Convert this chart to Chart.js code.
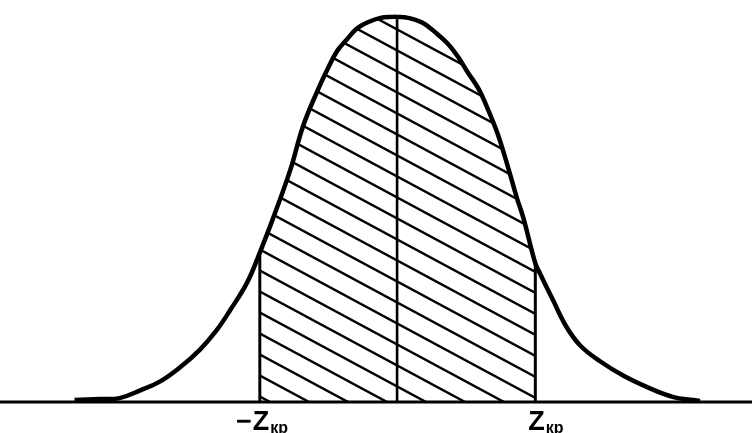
<!DOCTYPE html>
<html>
<head>
<meta charset="utf-8">
<script src="https://cdn.jsdelivr.net/npm/chart.js@4"></script>
<style>
    html, body { margin: 0; padding: 0; background: #fff; }
    #wrap { width: 752px; height: 433px; position: relative; }
</style>
</head>
<body>
<div id="wrap"><canvas id="myChart"></canvas></div>
<script>
// curve: z value and density height
const zValues = [-3.29, -3.03, -2.83, -2.62, -2.42, -2.21, -2.01, -1.84, -1.70, -1.53, -1.40, -1.27,
    -1.09, -0.96, -0.82, -0.71, -0.61, -0.51, -0.41, -0.31, -0.17, -0.04, 0, 0.11, 0.26, 0.39,
    0.52, 0.62, 0.72, 0.83, 0.90, 1.02, 1.12, 1.22, 1.29, 1.41, 1.46, 1.59, 1.73, 1.87, 2.07,
    2.31, 2.58, 2.82, 3.02, 3.09];
const density = [0.002, 0.003, 0.004, 0.012, 0.021, 0.036, 0.054, 0.074, 0.095, 0.123, 0.154, 0.188,
    0.239, 0.284, 0.319, 0.343, 0.362, 0.374, 0.385, 0.391, 0.396, 0.397, 0.397, 0.396, 0.391, 0.381,
    0.369, 0.356, 0.340, 0.323, 0.308, 0.278, 0.246, 0.211, 0.189, 0.143, 0.132, 0.105, 0.077, 0.058, 0.042,
    0.027, 0.014, 0.005, 0.002, 0.001];

// critical points and their labels
const critPoints = [-1.40, 1.41];
const critLabels = ["−Z", "Z"];
const critSub = "кр";
const centerZ = 0;

document.addEventListener("DOMContentLoaded", function () {
    const curve = zValues.map((z, i) => ({ x: z, y: density[i] }));
    const heightAt = z => curve.find(p => p.x === z).y;

    const hatchPts = curve.filter(p => p.x >= critPoints[0] && p.x <= critPoints[1]);

    // diagonal hatch pattern
    const tile = document.createElement("canvas");
    tile.width = 39;
    tile.height = 21;
    const tc = tile.getContext("2d");
    tc.strokeStyle = "#000";
    tc.lineWidth = 2.4;
    [-21, 0, 21].forEach(off => {
        tc.beginPath();
        tc.moveTo(-39, off + 4.6 - 21);
        tc.lineTo(78, off + 4.6 + 42);
        tc.stroke();
    });
    const hatch = tc.createPattern(tile, "repeat");

    const vLine = z => [{ x: z, y: 0 }, { x: z, y: heightAt(z) }];

    const labelPlugin = {
        id: "critLabels",
        afterDraw(chart) {
            const ctx = chart.ctx;
            const xs = chart.scales.x;
            ctx.save();
            ctx.fillStyle = "#000";
            ctx.textBaseline = "alphabetic";
            critPoints.forEach((z, i) => {
                const px = xs.getPixelForValue(z);
                const main = critLabels[i];
                const letter = main.slice(-1);
                const prefix = main.slice(0, -1);
                ctx.font = "bold 27px 'Liberation Sans', Arial, sans-serif";
                const zx = px - 7;
                ctx.textAlign = "left";
                ctx.fillText(letter, zx, 430);
                const w = ctx.measureText(letter).width;
                if (prefix) {
                    ctx.textAlign = "right";
                    ctx.fillText(prefix, zx - 1, 430);
                }
                ctx.textAlign = "left";
                ctx.font = "bold 16px 'Liberation Sans', Arial, sans-serif";
                ctx.fillText(critSub, zx + w + 1, 433);
            });
            ctx.restore();
        }
    };

    new Chart(document.getElementById("myChart"), {
        type: "line",
        data: {
            datasets: [
                {
                    data: curve,
                    borderColor: "#000",
                    borderWidth: 4.5,
                    pointRadius: 0,
                    fill: false,
                    tension: 0.4,
                    order: 0
                },
                {
                    data: hatchPts,
                    borderWidth: 0,
                    borderColor: "rgba(0,0,0,0)",
                    backgroundColor: hatch,
                    pointRadius: 0,
                    fill: "origin",
                    tension: 0.4,
                    order: 5
                },
                {
                    data: vLine(critPoints[0]),
                    borderColor: "#000", borderWidth: 3, pointRadius: 0, fill: false, order: 1
                },
                {
                    data: vLine(critPoints[1]),
                    borderColor: "#000", borderWidth: 3, pointRadius: 0, fill: false, order: 1
                },
                {
                    data: vLine(centerZ),
                    borderColor: "#000", borderWidth: 2.6, pointRadius: 0, fill: false, order: 1
                },
                {
                    // baseline
                    data: [{ x: -4.05, y: 0 }, { x: 3.62, y: 0 }],
                    borderColor: "#000", borderWidth: 3, pointRadius: 0, fill: false, order: 2
                }
            ]
        },
        options: {
            responsive: true,
            maintainAspectRatio: false,
            animation: false,
            layout: { padding: 0 },
            plugins: {
                legend: { display: false },
                tooltip: { enabled: false }
            },
            scales: {
                x: { type: "linear", min: -4.05, max: 3.62, display: false },
                y: { type: "linear", min: -0.032, max: 0.4144, display: false }
            }
        },
        plugins: [labelPlugin]
    });
});
</script>
</body>
</html>
